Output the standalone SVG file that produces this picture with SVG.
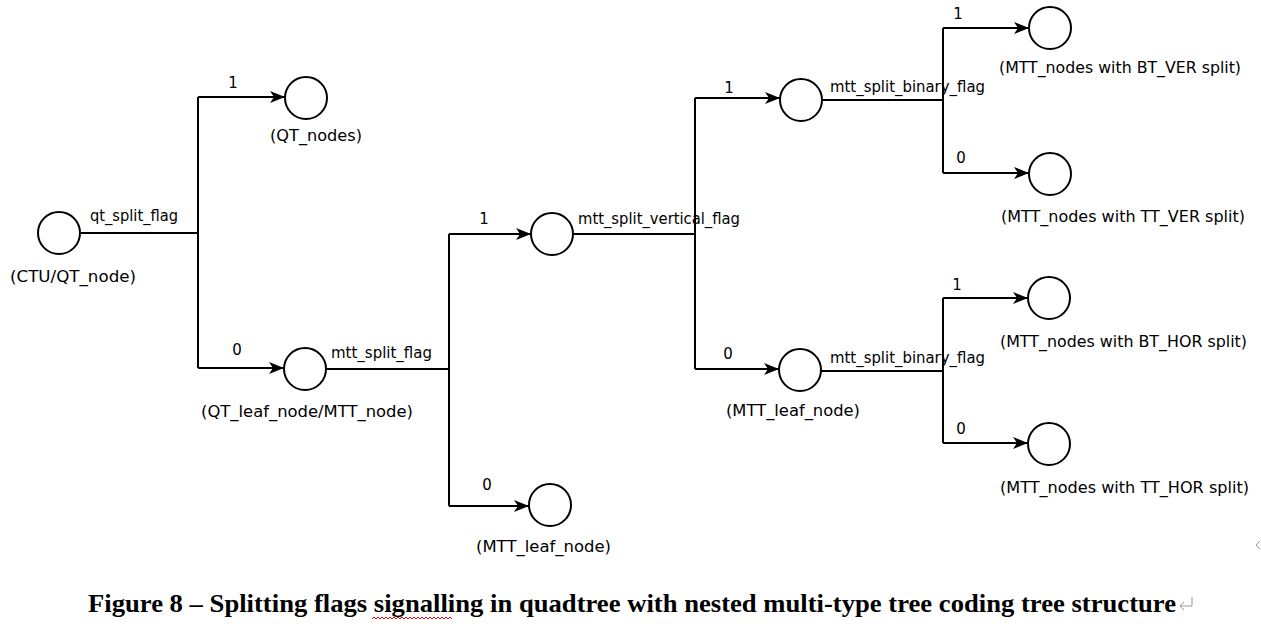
<svg xmlns="http://www.w3.org/2000/svg" width="1261" height="637" viewBox="0 0 1261 637">
<style>
.n{fill:#fff;stroke:#000;stroke-width:2}
.c{fill:none;stroke:#000;stroke-width:2}
.t{font-family:"DejaVu Sans",Verdana,sans-serif;font-size:15px;fill:#000}
.m{text-anchor:middle}
.cap{font-family:"Liberation Serif","Times New Roman",serif;font-weight:bold;font-size:26px;fill:#000}
</style>
<defs>
<marker id="a" markerUnits="userSpaceOnUse" markerWidth="16" markerHeight="14" refX="15" refY="7" orient="auto">
<path d="M0,1 L15,7 L0,13 L4,7 Z" fill="#000"/>
</marker>
</defs>
<rect width="1261" height="637" fill="#fff"/>
<g id="connectors">
<path class="c" d="M81,233 H198"/>
<path class="c" d="M198,97 V368"/>
<path class="c" d="M198,97 H285" marker-end="url(#a)"/>
<path class="c" d="M198,368 H284" marker-end="url(#a)"/>
<path class="c" d="M326,369 H449"/>
<path class="c" d="M449,234 V506"/>
<path class="c" d="M449,234 H531" marker-end="url(#a)"/>
<path class="c" d="M449,506 H529" marker-end="url(#a)"/>
<path class="c" d="M573,234 H695"/>
<path class="c" d="M695,98 V369"/>
<path class="c" d="M695,98 H780" marker-end="url(#a)"/>
<path class="c" d="M695,369 H779" marker-end="url(#a)"/>
<path class="c" d="M822,100 H943"/>
<path class="c" d="M943,28 V173"/>
<path class="c" d="M943,28 H1029" marker-end="url(#a)"/>
<path class="c" d="M943,173 H1029" marker-end="url(#a)"/>
<path class="c" d="M821,371 H943"/>
<path class="c" d="M943,298 V443"/>
<path class="c" d="M943,298 H1028" marker-end="url(#a)"/>
<path class="c" d="M943,443 H1028" marker-end="url(#a)"/>
<text class="t" x="90" y="221" textLength="88" lengthAdjust="spacingAndGlyphs">qt_split_flag</text>
<text class="t m" x="233" y="88">1</text>
<text class="t m" x="237" y="355">0</text>
<text class="t" x="331" y="358" textLength="101" lengthAdjust="spacingAndGlyphs">mtt_split_flag</text>
<text class="t m" x="484" y="224">1</text>
<text class="t m" x="487" y="490">0</text>
<text class="t" x="578" y="224" textLength="162" lengthAdjust="spacingAndGlyphs">mtt_split_vertical_flag</text>
<text class="t m" x="729" y="93">1</text>
<text class="t m" x="728" y="359">0</text>
<text class="t" x="830" y="92" textLength="155" lengthAdjust="spacingAndGlyphs">mtt_split_binary_flag</text>
<text class="t" x="830" y="363" textLength="155" lengthAdjust="spacingAndGlyphs">mtt_split_binary_flag</text>
<text class="t m" x="958" y="19">1</text>
<text class="t m" x="961" y="163">0</text>
<text class="t m" x="957" y="290">1</text>
<text class="t m" x="961" y="434">0</text>
</g>
<g id="ctu"><circle class="n" cx="59" cy="233" r="21"/><text class="t" x="10" y="282" textLength="126" lengthAdjust="spacingAndGlyphs">(CTU/QT_node)</text></g>
<g id="qt_nodes"><circle class="n" cx="306" cy="98" r="21"/><text class="t" x="270" y="141" textLength="92" lengthAdjust="spacingAndGlyphs">(QT_nodes)</text></g>
<g id="qt_leaf"><circle class="n" cx="305" cy="369" r="21"/><text class="t" x="201" y="417" textLength="212" lengthAdjust="spacingAndGlyphs">(QT_leaf_node/MTT_node)</text></g>
<g id="mtt_leaf1"><circle class="n" cx="550" cy="505" r="21"/><text class="t" x="476" y="552" textLength="135" lengthAdjust="spacingAndGlyphs">(MTT_leaf_node)</text></g>
<g id="mtt_v"><circle class="n" cx="552" cy="234" r="21"/></g>
<g id="mtt_b1"><circle class="n" cx="801" cy="100" r="21"/></g>
<g id="mtt_leaf2"><circle class="n" cx="800" cy="370" r="21"/><text class="t" x="726" y="416" textLength="134" lengthAdjust="spacingAndGlyphs">(MTT_leaf_node)</text></g>
<g id="bt_ver"><circle class="n" cx="1050" cy="28" r="21"/><text class="t" x="999" y="73" textLength="242" lengthAdjust="spacingAndGlyphs">(MTT_nodes with BT_VER split)</text></g>
<g id="tt_ver"><circle class="n" cx="1050" cy="174" r="21"/><text class="t" x="1001" y="222" textLength="244" lengthAdjust="spacingAndGlyphs">(MTT_nodes with TT_VER split)</text></g>
<g id="bt_hor"><circle class="n" cx="1049" cy="298" r="21"/><text class="t" x="1000" y="347" textLength="247" lengthAdjust="spacingAndGlyphs">(MTT_nodes with BT_HOR split)</text></g>
<g id="tt_hor"><circle class="n" cx="1049" cy="444" r="21"/><text class="t" x="1000" y="493" textLength="249" lengthAdjust="spacingAndGlyphs">(MTT_nodes with TT_HOR split)</text></g>
<g id="caption">
<text class="cap" x="88" y="612" textLength="1088" lengthAdjust="spacingAndGlyphs">Figure 8 – Splitting flags signalling in quadtree with nested multi-type tree coding tree structure</text>
<path d="M372,619 l2,-2 l2,2 l2,-2 l2,2 l2,-2 l2,2 l2,-2 l2,2 l2,-2 l2,2 l2,-2 l2,2 l2,-2 l2,2 l2,-2 l2,2 l2,-2 l2,2 l2,-2 l2,2 l2,-2 l2,2 l2,-2 l2,2 l2,-2 l2,2 l2,-2 l2,2 l2,-2 l2,2 l2,-2 l2,2 l2,-2 l2,2 l2,-2 l2,2 l2,-2 l2,2 l2,-2 l2,2" fill="none" stroke="#e00" stroke-width="1"/>
<path d="M1192,597 V606 H1180 M1184,602 L1180,606 L1184,610" fill="none" stroke="#999" stroke-width="1"/>
<path d="M1260,541 L1256,545 L1260,549" fill="none" stroke="#999" stroke-width="1"/>
</g>
</svg>
